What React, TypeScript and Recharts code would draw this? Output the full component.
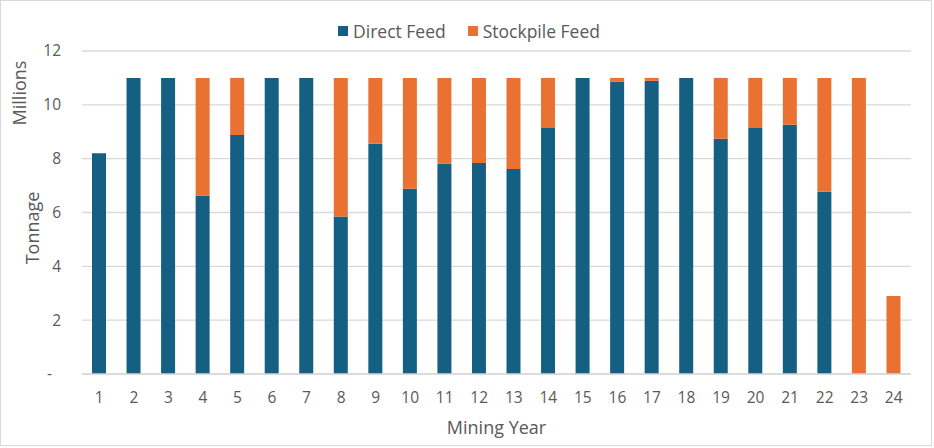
import React from "react";
import { BarChart, Bar, XAxis, YAxis, CartesianGrid } from "recharts";

const years = ["1","2","3","4","5","6","7","8","9","10","11","12","13","14","15","16","17","18","19","20","21","22","23","24"];
const directFeed = [8.2, 11, 11, 6.62, 8.88, 11, 11, 5.85, 8.55, 6.88, 7.81, 7.84, 7.62, 9.14, 11, 10.87, 10.89, 11, 8.74, 9.14, 9.26, 6.77, 0, 0];
const stockpileFeed = [0, 0, 0, 4.38, 2.12, 0, 0, 5.15, 2.45, 4.12, 3.19, 3.16, 3.38, 1.86, 0, 0.13, 0.11, 0, 2.26, 1.86, 1.74, 4.23, 11, 2.9];
const yTicks = [0, 2, 4, 6, 8, 10, 12];

const BLUE = "#156082";
const ORANGE = "#E97132";
const TEXT = "#595959";
const GRID = "#d9d9d9";
const FONT = "'Open Sans', sans-serif";

const data = years.map((y, i) => ({ year: y, direct: directFeed[i], stockpile: stockpileFeed[i] }));

const YTick = (props: any) => {
  const { x, y, payload } = props;
  const v = payload.value;
  return (
    <text x={v === 0 ? x - 9 : x} y={y} dy="0.35em" textAnchor="end" fill={TEXT} fontSize={15.5} fontFamily={FONT}>
      {v === 0 ? "-" : v}
    </text>
  );
};

export default function App() {
  return (
    <div style={{ position: "relative", width: 934, height: 448, background: "#fff", fontFamily: FONT }}>
      <style>{"body{margin:0}"}</style>
      <div style={{ position: "absolute", left: 0, top: 0, width: 932, height: 446, border: "1.5px solid #d9d9d9", boxSizing: "border-box", pointerEvents: "none" }} />
      <div style={{ position: "absolute", top: 19, left: 0, width: 934, display: "flex", justifyContent: "center", paddingLeft: 4, boxSizing: "border-box", color: TEXT, fontSize: 17.5, lineHeight: "24px" }}>
        <div style={{ display: "flex", alignItems: "center", marginRight: 22 }}>
          <span style={{ display: "inline-block", width: 10, height: 10, background: BLUE, marginRight: 5 }} />
          <span>Direct Feed</span>
        </div>
        <div style={{ display: "flex", alignItems: "center" }}>
          <span style={{ display: "inline-block", width: 10, height: 10, background: ORANGE, marginRight: 5 }} />
          <span>Stockpile Feed</span>
        </div>
      </div>
      <BarChart
        width={934}
        height={448}
        data={data}
        margin={{ top: 51, right: 23, bottom: 44, left: 0 }}
        barSize={14}
      >
        <CartesianGrid vertical={false} stroke={GRID} strokeWidth={1.3} />
        <XAxis
          dataKey="year"
          axisLine={{ stroke: GRID, strokeWidth: 1.5 }}
          tickLine={false}
          tickMargin={12}
          height={30}
          tick={{ fill: TEXT, fontSize: 15.5, fontFamily: FONT }}
          label={{ value: "Mining Year", position: "insideBottom", offset: -30, fill: TEXT, fontSize: 18, fontFamily: FONT }}
        />
        <YAxis
          width={82}
          domain={[0, 12]}
          ticks={yTicks}
          axisLine={false}
          tickLine={false}
          tickMargin={15}
          tick={<YTick />}
          label={{
            content: () => (
              <g fill={TEXT} fontFamily={FONT} fontSize={18}>
                <text x={19} y={93} transform="rotate(-90 19 93)" textAnchor="middle" dominantBaseline="central">Millions</text>
                <text x={32} y={228} transform="rotate(-90 32 228)" textAnchor="middle" dominantBaseline="central">Tonnage</text>
              </g>
            ),
          }}
        />
        <Bar dataKey="direct" stackId="a" fill={BLUE} isAnimationActive={false} />
        <Bar dataKey="stockpile" stackId="a" fill={ORANGE} isAnimationActive={false} />
      </BarChart>
    </div>
  );
}
